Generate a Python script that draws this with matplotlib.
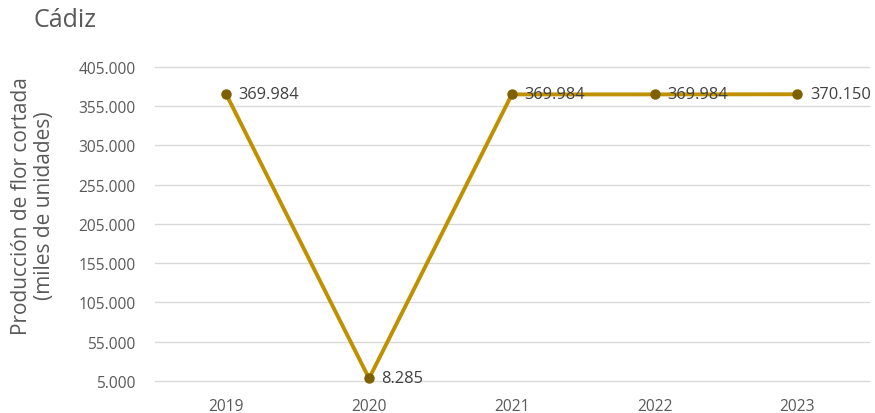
import matplotlib.pyplot as plt
import numpy as np

plt.rcParams['font.family'] = ['Open Sans', 'DejaVu Sans']

# data
years = ['2019', '2020', '2021', '2022', '2023']
produccion = [369984, 8285, 369984, 369984, 370150]
etiquetas = ['369.984', '8.285', '369.984', '369.984', '370.150']
yticks = [5000, 55000, 105000, 155000, 205000, 255000, 305000, 355000, 405000]

gris = '#595959'

fig = plt.figure(figsize=(8.75, 4.14), dpi=100)
ax = fig.add_axes([0.177, 0.0773, 0.816, 0.7587])

x = np.arange(len(years))
ax.plot(x, produccion, color='#BF9000', lw=2.8, marker='o', ms=6.5,
        mfc='#7F6000', mec='#7F6000', zorder=3, clip_on=False)

for xi, yi, lab in zip(x, produccion, etiquetas):
    ax.annotate(lab, (xi, yi), xytext=(9, 0), textcoords='offset points',
                va='center', ha='left', fontsize=11.8, color='#404040')

ax.set_xlim(-0.5, 4.5)
ax.set_ylim(5000, 405000)
ax.set_xticks(x)
ax.set_xticklabels(years)
ax.set_yticks(yticks)
ax.set_yticklabels([f'{v:,}'.replace(',', '.') for v in yticks])
ax.tick_params(axis='both', length=0, labelsize=11.2, labelcolor=gris)
ax.tick_params(axis='x', pad=12)
ax.tick_params(axis='y', pad=14)
ax.grid(axis='y', color='#D9D9D9', lw=1, clip_on=False)
ax.set_axisbelow(True)
for s in ax.spines.values():
    s.set_visible(False)

ax.set_ylabel('Producción de flor cortada\n(miles de unidades)', fontsize=15,
              color=gris, linespacing=1.1)
ax.yaxis.set_label_coords(-0.14, 0.56)
fig.text(0.038, 0.95, 'Cádiz', fontsize=18, color=gris, ha='left', va='center')

fig.savefig('out.png', dpi=100)
